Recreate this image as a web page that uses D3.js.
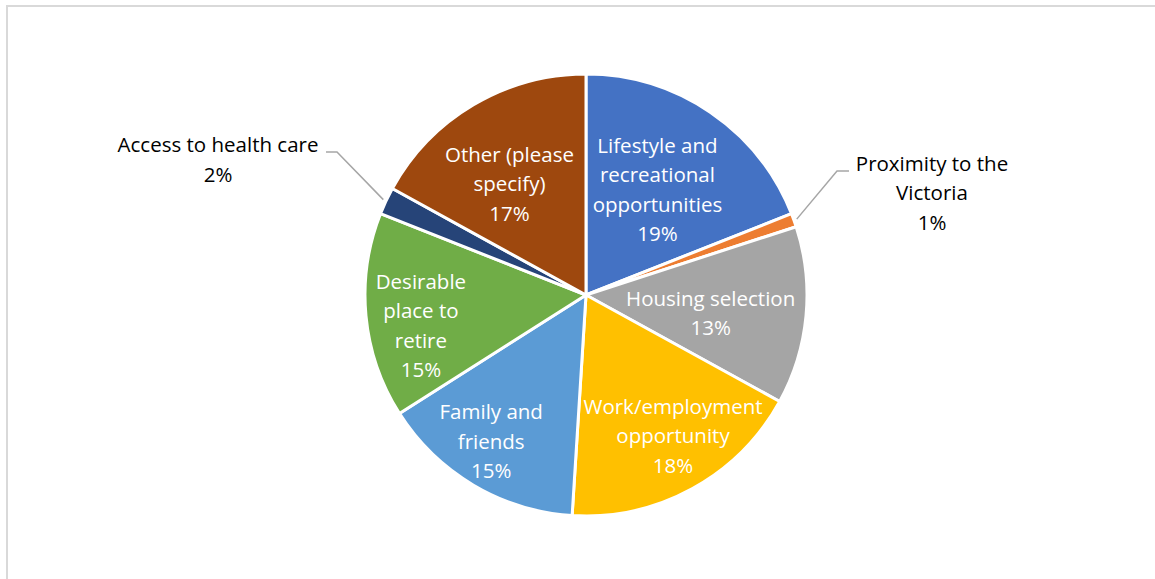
<!DOCTYPE html>
<html>
<head>
<meta charset="utf-8">
<script src="https://cdn.jsdelivr.net/npm/d3@7"></script>
<style>
  html, body { margin: 0; padding: 0; background: #fff; }
  svg { display: block; }
  text { font-family: "Open Sans", Lato, sans-serif; }
</style>
</head>
<body>
<svg id="chart" width="1155" height="579"></svg>
<script>
// Reasons for moving to the area (share of responses)
const categories = [
  "Lifestyle and recreational opportunities",
  "Proximity to the Victoria",
  "Housing selection",
  "Work/employment opportunity",
  "Family and friends",
  "Desirable place to retire",
  "Access to health care",
  "Other (please specify)"
];
const values = [19, 1, 13, 18, 15, 15, 2, 17];
const labelLines = [
  ["Lifestyle and", "recreational", "opportunities"],
  ["Proximity to the", "Victoria"],
  ["Housing selection"],
  ["Work/employment", "opportunity"],
  ["Family and", "friends"],
  ["Desirable", "place to", "retire"],
  ["Access to health care"],
  ["Other (please", "specify)"]
];

const colors = ["#4472C4", "#ED7D31", "#A5A5A5", "#FFC000", "#5B9BD5", "#70AD47", "#264478", "#9E480E"];

const svg = d3.select("#chart");
const W = 1155, H = 579;

// chart-area frame
svg.append("rect")
  .attr("x", 7).attr("y", 6)
  .attr("width", W + 10).attr("height", H + 10)
  .attr("fill", "none")
  .attr("stroke", "#d9d9d9")
  .attr("stroke-width", 2);

const cx = 586, cy = 295, R = 221;
const g = svg.append("g").attr("transform", `translate(${cx},${cy})`);

const data = categories.map((c, i) => ({ name: c, value: values[i], lines: labelLines[i], color: colors[i] }));

const pie = d3.pie().value(d => d.value).sort(null).startAngle(0).endAngle(2 * Math.PI);
const arcs = pie(data);
const arc = d3.arc().innerRadius(0).outerRadius(R);

g.selectAll("path.slice")
  .data(arcs)
  .join("path")
  .attr("class", "slice")
  .attr("d", arc)
  .attr("fill", d => d.data.color)
  .attr("stroke", "#fff")
  .attr("stroke-width", 3)
  .attr("stroke-linejoin", "round");

// label placement: inside labels sit at a fraction of the radius along the slice bisector
const insideRadius = {
  "Lifestyle and recreational opportunities": 0.575,
  "Housing selection": 0.57,
  "Work/employment opportunity": 0.75,
  "Family and friends": 0.79,
  "Desirable place to retire": 0.76,
  "Other (please specify)": 0.61
};
const angleShift = {
  "Work/employment opportunity": -0.05,
  "Family and friends": 0.04,
  "Desirable place to retire": -0.09,
  "Other (please specify)": -0.07,
  "Housing selection": 0.05
};
const lineH = 29.5;
const fontSize = 20.5;

function drawLabel(parent, x, y, lines, pct, fill) {
  const all = lines.concat([pct + "%"]);
  const t = parent.append("text")
    .attr("text-anchor", "middle")
    .attr("font-size", fontSize)
    .attr("fill", fill);
  const y0 = y - (all.length - 1) * lineH / 2;
  all.forEach((s, i) => {
    t.append("tspan")
      .attr("x", x)
      .attr("y", y0 + i * lineH)
      .attr("dy", "0.35em")
      .text(s);
  });
}

arcs.forEach(a => {
  const k = insideRadius[a.data.name];
  if (k === undefined) return;
  const mid = (a.startAngle + a.endAngle) / 2 + (angleShift[a.data.name] || 0);
  const r = k * R;
  drawLabel(g, r * Math.sin(mid), -r * Math.cos(mid), a.data.lines, a.data.value, "#fff");
});

// outside labels with elbow leader lines
const outside = {
  "Proximity to the Victoria": { label: [932 - cx, 193 - cy], elbow: [837 - cx, 171 - cy], end: [849 - cx, 171 - cy] },
  "Access to health care": { label: [218 - cx, 160 - cy], elbow: [337 - cx, 152 - cy], end: [326 - cx, 152 - cy] }
};

arcs.forEach(a => {
  const o = outside[a.data.name];
  if (!o) return;
  const mid = (a.startAngle + a.endAngle) / 2;
  const r = R + 3;
  const sx = r * Math.sin(mid), sy = -r * Math.cos(mid);
  g.append("polyline")
    .attr("points", [[sx, sy], o.elbow, o.end].map(p => p.join(",")).join(" "))
    .attr("fill", "none")
    .attr("stroke", "#a6a6a6")
    .attr("stroke-width", 1.5);
  drawLabel(g, o.label[0], o.label[1], a.data.lines, a.data.value, "#000");
});
</script>
</body>
</html>
